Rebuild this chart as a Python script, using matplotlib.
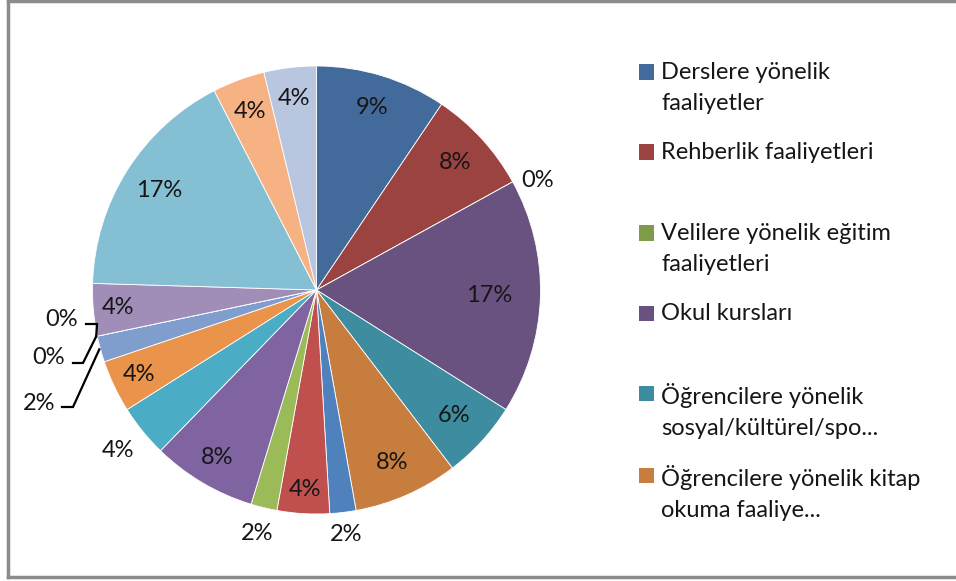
import matplotlib
matplotlib.use("Agg")
import matplotlib.pyplot as plt
from matplotlib.patches import Rectangle
from matplotlib.lines import Line2D
import numpy as np

plt.rcParams['font.family'] = ['Lato', 'DejaVu Sans']

# ---- data (counts; percentages shown are rounded) ----
counts = [5, 4, 0, 9, 3, 4, 1, 2, 1, 4, 2, 2, 1, 0, 0, 2, 9, 2, 2]
legend_labels = [
    "Derslere yönelik\nfaaliyetler",
    "Rehberlik faaliyetleri",
    "Velilere yönelik eğitim\nfaaliyetleri",
    "Okul kursları",
    "Öğrencilere yönelik\nsosyal/kültürel/spo...",
    "Öğrencilere yönelik kitap\nokuma faaliye...",
]

# ---- styles ----
colors = [
    "#426A9A", "#9B4341", "#7F9B49", "#69527F", "#3E8C9F", "#C67D3E",
    "#4F81BD", "#C0504D", "#9BBB59", "#8064A2", "#4BACC6", "#EA934A",
    "#7F9ECE", "#CD7371", "#B3CB84", "#A08EB9", "#85BFD3", "#F7B283",
    "#B9C6E0",
]
# label radius per slice (fraction of pie radius)
label_r = [0.85, 0.84, 1.10, 0.77, 0.83, 0.84, 1.10, 0.89, 1.12, 0.87,
           1.14, 0.88, None, None, None, 0.89, 0.83, 0.85, 0.86]
# small angular nudge (degrees, clockwise) for label placement
label_dang = [0] * 19
label_dang[2] = 2.5

W, H = 956, 581
fig = plt.figure(figsize=(W / 100, H / 100), dpi=100)
fig.patch.set_facecolor("white")

cx, cy, R = 316.5, 290, 224
ax = fig.add_axes([(cx - R) / W, (H - cy - R) / H, 2 * R / W, 2 * R / H])

wedges, _ = ax.pie(counts, colors=colors, startangle=90, counterclock=False,
                   radius=1.0, wedgeprops=dict(edgecolor="white", linewidth=0.6))
ax.set_xlim(-1, 1)
ax.set_ylim(-1, 1)
ax.set_aspect("equal")
ax.axis("off")

total = sum(counts)
pct_txt = [f"{round(c / total * 100):.0f}%" for c in counts]
FS = 17
TC = "#161616"

for i, w in enumerate(wedges):
    if label_r[i] is None:
        continue
    mid = np.deg2rad((w.theta1 + w.theta2) / 2 - label_dang[i])
    r = label_r[i]
    ax.text(r * np.cos(mid), r * np.sin(mid), pct_txt[i], ha="center",
            va="center", fontsize=FS, color=TC, clip_on=False)

# leader-line labels for the tiny slices on the left
def px2d(px, py):
    return (px - cx) / R, (cy - py) / R

leader = {12: ((39, 404), (62, 407), (73, 407)),
          13: ((49, 358), (73, 363), (83, 363)),
          14: ((62, 320), (86, 324), (97, 324))}
for i, (tp, p0, p1) in leader.items():
    w = wedges[i]
    mid = np.deg2rad((w.theta1 + w.theta2) / 2)
    ex, ey = np.cos(mid), np.sin(mid)
    tx, ty = px2d(*tp)
    ax.text(tx, ty, pct_txt[i], ha="center", va="center", fontsize=FS,
            color=TC, clip_on=False)
    a = px2d(*p0)
    b = px2d(*p1)
    ax.plot([a[0], b[0], ex * 1.005], [a[1], b[1], ey * 1.005], color="black",
            lw=1.6, clip_on=False, solid_joinstyle="miter")

# legend (manual layout)
leg_y = [72, 152, 233, 313, 393, 475]
for i, lab in enumerate(legend_labels):
    y = leg_y[i]
    fig.patches.append(Rectangle((639 / W, (H - y - 7.5) / H), 15 / W, 15 / H,
                                 transform=fig.transFigure, facecolor=colors[i],
                                 edgecolor="none"))
    fig.text(661 / W, (H - y + 10) / H, lab, ha="left", va="top", fontsize=FS,
             color=TC, linespacing=1.6, transform=fig.transFigure)

# chart border
bc = "#8C8C8C"
fig.add_artist(Line2D([8 / W, 8 / W], [(H - 1) / H, (H - 577) / H], color=bc, lw=2.5,
                      transform=fig.transFigure))
fig.add_artist(Line2D([8 / W, 1.0], [(H - 1) / H, (H - 1) / H], color=bc, lw=2.5,
                      transform=fig.transFigure))
fig.add_artist(Line2D([8 / W, 1.0], [(H - 577) / H, (H - 577) / H], color=bc, lw=2.5,
                      transform=fig.transFigure))

fig.savefig("out.png", dpi=100, facecolor="white")
